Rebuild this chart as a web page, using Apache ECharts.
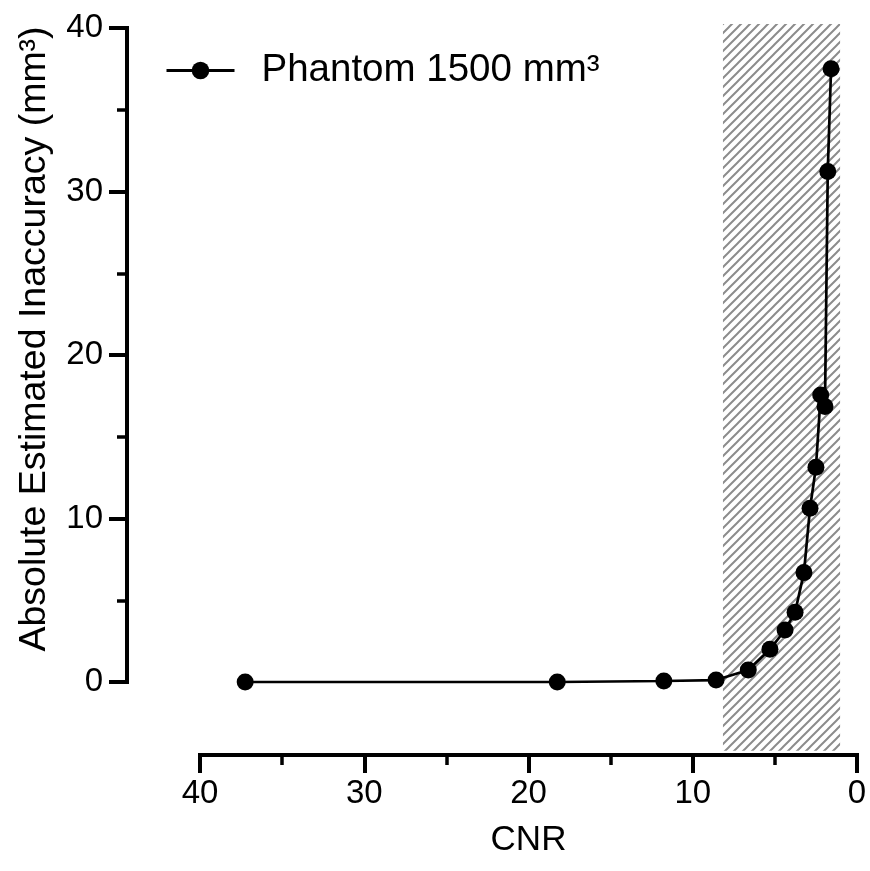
<!DOCTYPE html>
<html>
<head>
<meta charset="utf-8">
<script src="https://cdn.jsdelivr.net/npm/echarts@6/dist/echarts.min.js"></script>
<style>
html,body{margin:0;padding:0;background:#fff;}
#chart{width:870px;height:871px;}
</style>
</head>
<body>
<div id="chart"></div>
<script>
// ---- data ----
const seriesName = 'Phantom 1500 mm³';
const cnr = [37.25, 18.25, 11.76, 8.58, 6.62, 5.30, 4.38, 3.77, 3.23, 2.86, 2.50, 2.21, 1.95, 1.78, 1.58];
const inaccuracy = [0.0, 0.0, 0.06, 0.12, 0.73, 2.0, 3.18, 4.27, 6.69, 10.63, 13.14, 17.56, 16.85, 31.23, 37.51];
const shadeCnr = [8.16, 1.03];      // hatched CNR band
const shadeInacc = [-4.2, 40.25];   // vertical extent of band
const xTicks = [0, 10, 20, 30, 40];
const yTicks = [0, 10, 20, 30, 40];
const xTitle = 'CNR';
const yTitle = 'Absolute Estimated Inaccuracy (mm³)';

// hatch pattern
function makeHatch() {
  const c = document.createElement('canvas');
  const s = 9;
  c.width = s; c.height = s;
  const g = c.getContext('2d');
  g.fillStyle = '#fff';
  g.fillRect(0, 0, s, s);
  g.strokeStyle = '#8c8c8c';
  g.lineWidth = 2;
  g.beginPath();
  g.moveTo(-2, s + 2); g.lineTo(s + 2, -2);
  g.moveTo(-2, 2); g.lineTo(2, -2);
  g.moveTo(s - 2, s + 2); g.lineTo(s + 2, s - 2);
  g.stroke();
  return c;
}
const hatch = makeHatch();

const pts = cnr.map((x, i) => [x, inaccuracy[i]]);
const font = 'Arial, "Liberation Sans", sans-serif';

const chart = echarts.init(document.getElementById('chart'), null, {renderer: 'canvas'});
chart.setOption({
  animation: false,
  backgroundColor: '#fff',
  textStyle: {fontFamily: font, color: '#000'},
  grid: {left: 200, right: 13, top: 28, bottom: 189, containLabel: false},
  legend: {
    left: 160, top: 46,
    data: [seriesName],
    itemWidth: 68, itemHeight: 22,
    lineStyle: {width: 3},
    textStyle: {fontSize: 38.5, color: '#000', fontFamily: font, padding: [0, 0, 0, 22]},
    selectedMode: false
  },
  xAxis: {
    type: 'value', min: 0, max: 40, interval: 10, inverse: true,
    offset: 73,
    name: xTitle, nameLocation: 'middle', nameGap: 68,
    nameTextStyle: {fontSize: 35, color: '#000', fontFamily: font},
    axisLine: {show: true, onZero: false, lineStyle: {color: '#000', width: 4, cap: 'square'}},
    axisTick: {show: true, length: 18, lineStyle: {color: '#000', width: 4}},
    minorTick: {show: true, splitNumber: 2, length: 10, lineStyle: {color: '#000', width: 3.5}},
    axisLabel: {fontSize: 33, color: '#000', margin: 22, fontFamily: font,
      customValues: xTicks},
    splitLine: {show: false}
  },
  yAxis: {
    type: 'value', min: 0, max: 40, interval: 10,
    offset: 73,
    name: yTitle, nameLocation: 'middle', nameGap: 73, nameRotate: 90,
    nameTextStyle: {fontSize: 37.5, color: '#000', fontFamily: font, padding: [0, 0, 0, 32]},
    axisLine: {show: true, onZero: false, lineStyle: {color: '#000', width: 4, cap: 'square'}},
    axisTick: {show: true, length: 18, lineStyle: {color: '#000', width: 4}},
    minorTick: {show: true, splitNumber: 2, length: 10, lineStyle: {color: '#000', width: 3.5}},
    axisLabel: {fontSize: 33, color: '#000', margin: 24, fontFamily: font,
      customValues: yTicks},
    splitLine: {show: false}
  },
  series: [
    {
      type: 'custom',
      name: 'band',
      silent: true,
      clip: false,
      z: 1,
      data: [[shadeCnr[0], shadeCnr[1], shadeInacc[0], shadeInacc[1]]],
      renderItem: function (params, api) {
        const p1 = api.coord([api.value(0), api.value(3)]);
        const p2 = api.coord([api.value(1), api.value(2)]);
        return {
          type: 'rect',
          shape: {x: Math.min(p1[0], p2[0]), y: Math.min(p1[1], p2[1]),
                  width: Math.abs(p2[0] - p1[0]), height: Math.abs(p2[1] - p1[1])},
          style: {fill: {image: hatch, repeat: 'repeat'}, stroke: null}
        };
      }
    },
    {
      type: 'line',
      name: seriesName,
      data: pts,
      z: 3,
      clip: false,
      symbol: 'circle',
      symbolSize: 17,
      showAllSymbol: true,
      lineStyle: {color: '#000', width: 2.7},
      itemStyle: {color: '#000'}
    }
  ]
});
</script>
</body>
</html>
